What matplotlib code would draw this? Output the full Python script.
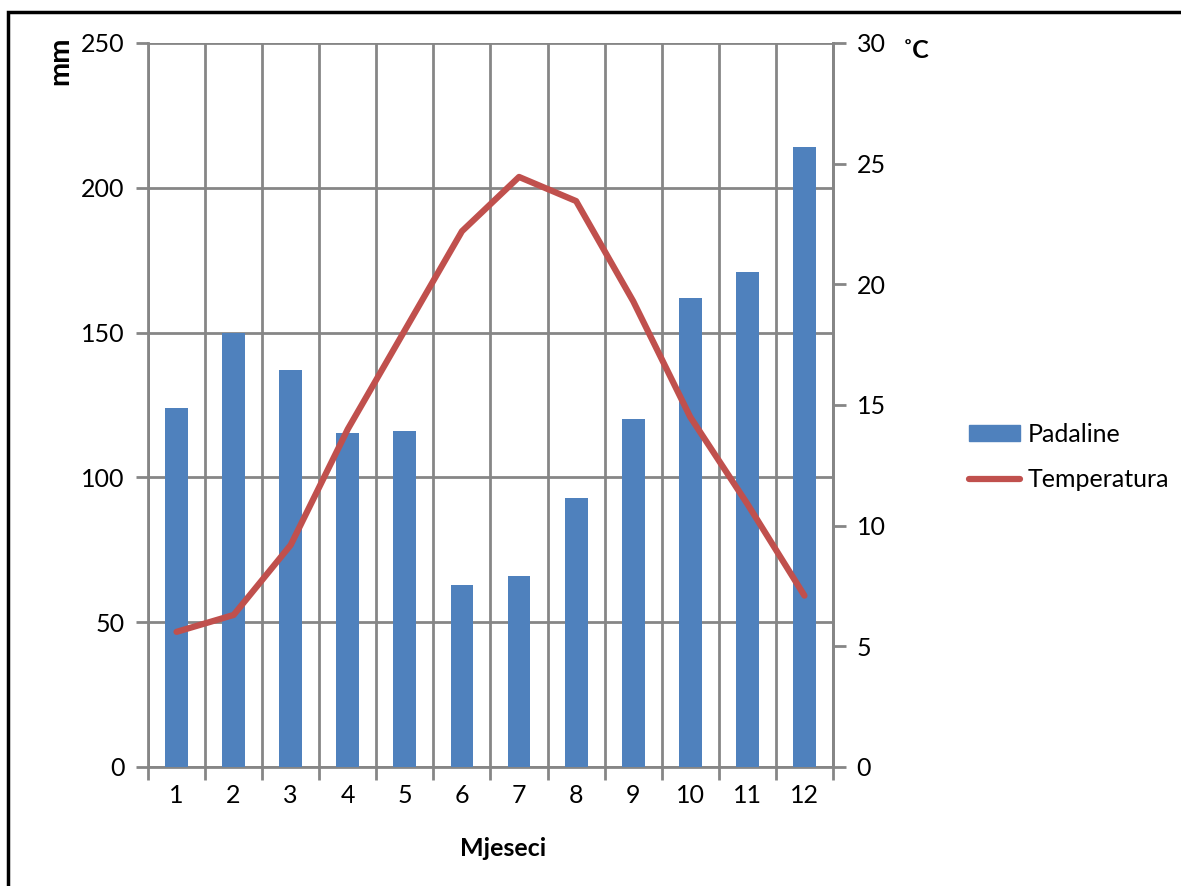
import matplotlib
matplotlib.use("Agg")
import matplotlib.pyplot as plt
from matplotlib.patches import Rectangle
from matplotlib.lines import Line2D
import numpy as np

months = [1, 2, 3, 4, 5, 6, 7, 8, 9, 10, 11, 12]
padaline = [124, 150, 137, 115.5, 116, 63, 66, 93, 120, 162, 171, 214]
temperatura = [5.6, 6.3, 9.2, 14.0, 18.1, 22.2, 24.45, 23.45, 19.3, 14.5, 10.9, 7.1]
mm_ticks = [0, 50, 100, 150, 200, 250]
c_ticks = [0, 5, 10, 15, 20, 25, 30]

plt.rcParams['font.family'] = ['Lato', 'DejaVu Sans']
FS = 18
GRID = '#868686'
BLUE = '#4F81BD'
RED = '#C0504D'

W, H = 1181, 886
fig = plt.figure(figsize=(W / 100, H / 100), dpi=100)

def fx(px):
    return px / W

def fy(py):
    return 1 - py / H

# plot area: x 148..833, y 43..767
ax = fig.add_axes([fx(148), fy(767), fx(833) - fx(148), fy(43) - fy(767)])
ax2 = ax.twinx()

x = np.arange(len(months))
ax.bar(x, padaline, width=0.4, color=BLUE, zorder=3, label='Padaline')
ax.set_xlim(-0.5, len(months) - 0.5)
ax.set_ylim(0, 250)
ax.set_yticks(mm_ticks)
ax.set_xticks(np.arange(len(months) + 1) - 0.5)
ax.set_xticklabels([])
ax.set_xticks(x, minor=True)
ax.set_xticklabels([str(m) for m in months], minor=True, fontsize=FS)
ax.tick_params(axis='x', which='major', length=9, width=2, color=GRID, direction='out')
ax.tick_params(axis='x', which='minor', length=0, pad=12)
ax.tick_params(axis='y', length=9, width=2, color=GRID, labelsize=FS, pad=8)
ax.grid(True, which='major', color=GRID, linewidth=2, zorder=0)
ax.set_axisbelow(True)
ax.spines['top'].set_visible(False)
for s in ['left', 'bottom', 'right']:
    ax.spines[s].set_color(GRID)
    ax.spines[s].set_linewidth(2)

ax2.plot(x, temperatura, color=RED, linewidth=4.5, solid_capstyle='round', zorder=4)
ax2.set_ylim(0, 30)
ax2.set_yticks(c_ticks)
ax2.tick_params(axis='y', length=9, width=2, color=GRID, labelsize=FS, pad=8)
for s in ['top', 'left', 'bottom']:
    ax2.spines[s].set_visible(False)
ax2.spines['right'].set_color(GRID)
ax2.spines['right'].set_linewidth(2)

# axis titles
fig.text(fx(60), fy(61), 'mm', rotation=90, fontsize=21, fontweight='bold', ha='center', va='center')
fig.text(fx(916), fy(50), '˚C', fontsize=FS, fontweight='bold', ha='center', va='center')
fig.text(fx(503), fy(848), 'Mjeseci', fontsize=FS, fontweight='bold', ha='center', va='center')

# legend
handles = [Rectangle((0, 0), 1, 1, color=BLUE),
           Line2D([0], [0], color=RED, linewidth=4.5, solid_capstyle='round')]
fig.legend(handles, ['Padaline', 'Temperatura'], loc='center left',
           bbox_to_anchor=(fx(969), fy(457)), frameon=False, fontsize=FS,
           handlelength=2.05, handleheight=0.6, handletextpad=0.3,
           labelspacing=0.9, borderaxespad=0, borderpad=0)

# outer frame
fig.add_artist(Rectangle((fx(8), fy(900)), 1.2, fy(12) - fy(900), transform=fig.transFigure,
                         fill=False, edgecolor='black', linewidth=2.5))

fig.savefig('out.png', dpi=100)
